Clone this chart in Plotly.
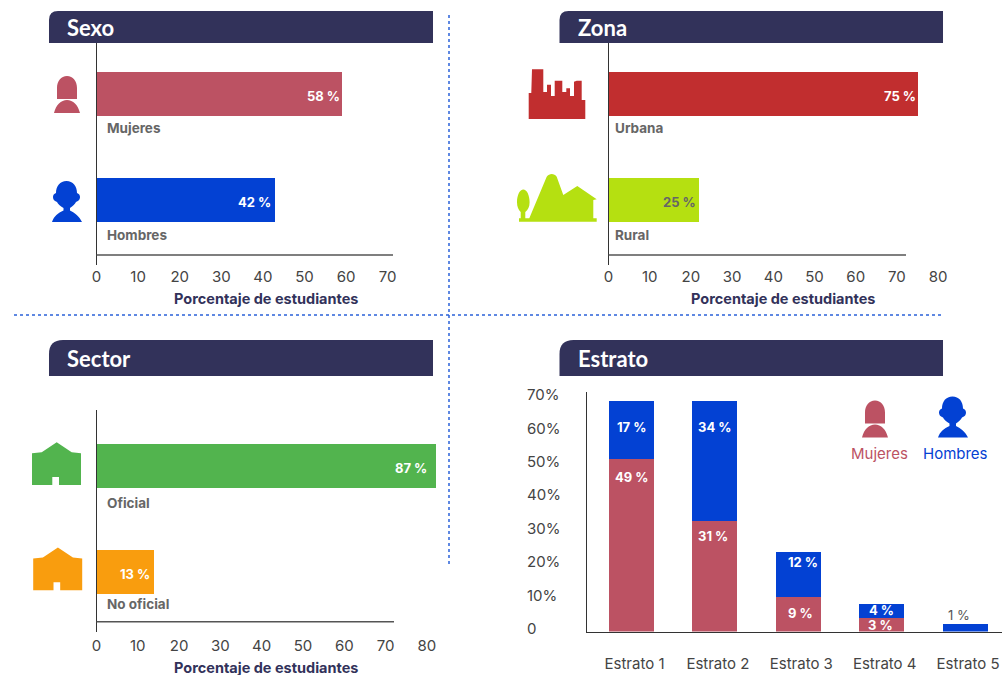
import re
import plotly.graph_objects as go

W, H = 1008, 675
NAVY = "#32325a"; WOMAN = "#bc5263"; MAN = "#0341d3"; RED = "#c12e2f"; LIME = "#b5e011"
GREEN = "#52b44e"; ORANGE = "#f99d0e"; TICK = "#444444"; CAT = "#666666"; DOT = "#2b62d9"
FONT = "Inter"; TITLE_FONT = "Lato"

# ---- data ----
sexo_cats = ["Mujeres", "Hombres"]
sexo_vals = [59, 43]
sexo_text = ["58 %", "42 %"]
zona_cats = ["Urbana", "Rural"]
zona_vals = [75, 22]
zona_text = ["75 %", "25 %"]
sector_cats = ["Oficial", "No oficial"]
sector_vals = [82.2, 13.9]
sector_text = ["87 %", "13 %"]
estrato_cats = ["Estrato 1", "Estrato 2", "Estrato 3", "Estrato 4", "Estrato 5"]
estrato_mujeres = [51.6, 33.1, 10.3, 4.0, 0]
estrato_hombres = [17.4, 35.9, 13.5, 4.2, 2.2]
estrato_mujeres_text = ["49 %", "31 %", "9 %", "3 %", ""]
estrato_hombres_text = ["17 %", "34 %", "12 %", "4 %", "1 %"]
x_ticks_sexo = [0, 10, 20, 30, 40, 50, 60, 70]
x_ticks_zona = [0, 10, 20, 30, 40, 50, 60, 70, 80]
x_ticks_sector = [0, 10, 20, 30, 40, 50, 60, 70, 80]
y_ticks_estrato = [0, 10, 20, 30, 40, 50, 60, 70]

fig = go.Figure()
shapes, annos = [], []


def px(x):
    return x / W


def py(y):
    return 1 - y / H


def dx(a, b):
    return [px(a), px(b)]


def dy(top, bottom):
    return [py(bottom), py(top)]


def text(x, y, s, size=14, color=TICK, bold=False, anchor="center", font=FONT, xref="paper", yref="paper", **kw):
    annos.append(dict(xref=xref, yref=yref,
                      x=px(x) if xref == "paper" else x,
                      y=py(y) if yref == "paper" else y,
                      text=s, showarrow=False, xanchor=anchor, yanchor="middle",
                      font=dict(family=font, size=size, color=color, weight=700 if bold else 400),
                      **kw))


def shift(path, ox=0, oy=0):
    return re.sub(r"(-?[\d.]+),(-?[\d.]+)",
                  lambda m: f"{float(m.group(1)) + ox:.1f},{float(m.group(2)) + oy:.1f}", path)


def to_paper(path):
    return re.sub(r"(-?[\d.]+),(-?[\d.]+)",
                  lambda m: f"{px(float(m.group(1))):.5f},{py(float(m.group(2))):.5f}", path)


def icon(path, color):
    shapes.append(dict(type="path", xref="paper", yref="paper", path=to_paper(path),
                       fillcolor=color, line=dict(width=0), layer="above"))


def seg(x0, y0, x1, y1, color, width=1.5, dash="solid"):
    shapes.append(dict(type="line", xref="paper", yref="paper", x0=px(x0), y0=py(y0), x1=px(x1), y1=py(y1),
                       line=dict(color=color, width=width, dash=dash)))


def hpanel(n, cats, vals, labels, colors, ticks, x0, xend, scale, top, bottom, c0, line_end,
           label_x, cat_off, txt_end, txt_colors, title_x, standoff=1, title_off=33):
    xa, ya = f"x{n}", f"y{n}"
    fig.add_trace(go.Bar(y=cats, x=vals, orientation="h", width=44 / 106,
                         marker=dict(color=colors, line=dict(width=0)),
                         xaxis=xa, yaxis=ya, showlegend=False, hoverinfo="x+y"))
    fig.layout[f"xaxis{n}"] = dict(domain=dx(x0, xend), range=[0, (xend - x0) / scale], anchor=ya,
                                   tickmode="array", tickvals=ticks, showgrid=False, zeroline=False,
                                   showline=False, ticks="", ticklabelstandoff=standoff, automargin=False,
                                   tickfont=dict(family=FONT, size=15, color=TICK))
    fig.layout[f"yaxis{n}"] = dict(domain=dy(top, bottom), anchor=xa, type="category", automargin=False,
                                   range=[(bottom - c0) / 106, -(c0 - top) / 106],
                                   showticklabels=False, ticks="", showgrid=False, zeroline=False,
                                   showline=True, linecolor="#333333", linewidth=1.25, categoryorder="array",
                                   categoryarray=cats)
    seg(x0, bottom - 10, line_end, bottom - 10, "#555555")
    for i, c in enumerate(cats):
        text(label_x, c0 + 106 * i + cat_off[i], c, color=CAT, bold=True, anchor="left", size=13.5)
        text(vals[i], c, labels[i], color=txt_colors[i], bold=True, anchor="right", size=13,
             xref=xa, yref=ya, xshift=txt_end[i], yshift=-2)
    text(title_x, bottom + title_off, "Porcentaje de estudiantes", color=NAVY, bold=True, size=14.5)


def header(x0, x1, y0, y1, r, s):
    p = f"M {x0},{y1} L {x0},{y0 + r} Q {x0},{y0} {x0 + r},{y0} L {x1},{y0} L {x1},{y1} Z"
    shapes.append(dict(type="path", xref="paper", yref="paper", path=to_paper(p),
                       fillcolor=NAVY, line=dict(width=0)))
    text(x0 + 16, (y0 + y1) / 2, s, size=22, color="white", bold=True, anchor="left", font=TITLE_FONT)


hpanel(2, zona_cats, zona_vals, zona_text, [RED, LIME], x_ticks_zona, 608.5, 950, 4.12, 43, 265, 94, 906,
       613, [34, 35], [0, -1], ["white", CAT], 783)
hpanel(3, sector_cats, sector_vals, sector_text, [GREEN, ORANGE], x_ticks_sector, 96.5, 445, 4.13, 410, 631.7, 466,
       394, 105, [37, 32], [-7, -2], ["white", "white"], 266, standoff=3, title_off=36)
hpanel(5, sexo_cats, sexo_vals, sexo_text, [WOMAN, MAN], x_ticks_sexo, 96.5, 400, 4.16, 43, 265, 94, 393,
       105, [34, 35], [0, -2], ["white", "white"], 265.5)

# ---- Estrato ----
E_X0, E_X1, E_TOP, E_BASE = 587, 1002, 392, 631.5
E_SCALE, E_STEP = 3.34, 83.4
fig.add_trace(go.Bar(x=estrato_cats, y=estrato_mujeres, name="Mujeres", marker=dict(color=WOMAN, line=dict(width=0)),
                     width=45 / E_STEP, xaxis="x4", yaxis="y4", showlegend=False))
fig.add_trace(go.Bar(x=estrato_cats, y=estrato_hombres, name="Hombres", marker=dict(color=MAN, line=dict(width=0)),
                     width=45 / E_STEP, xaxis="x4", yaxis="y4", showlegend=False))
fig.layout["xaxis4"] = dict(domain=dx(E_X0, E_X1), anchor="y4", type="category", automargin=False,
                            range=[-(631.5 - E_X0) / E_STEP, (E_X1 - 631.5) / E_STEP],
                            showline=True, linecolor="#333333", linewidth=1.25, ticks="", showgrid=False,
                            ticklabelstandoff=18, ticklabelshift=3,
                            tickfont=dict(family=FONT, size=15, color=TICK))
fig.layout["yaxis4"] = dict(domain=dy(E_TOP, E_BASE), anchor="x4", range=[0, (E_BASE - E_TOP) / E_SCALE],
                            tickmode="array", tickvals=y_ticks_estrato, showticklabels=False, ticks="",
                            automargin=False, showgrid=False, zeroline=False, showline=True,
                            linecolor="#333333", linewidth=1.25)
for t in y_ticks_estrato:
    text(525, t, "0" if t == 0 else f"{t}%", size=15, anchor="left", yref="y4", yshift=3)
m_off = [18, 15, 16, 6.5]
m_dx = [0, -2, 2, -1]
h_off = [26, 26, 10, 6]
h_dx = [0, 0, 5, 0]
for i in range(4):
    text(estrato_cats[i], estrato_mujeres[i], estrato_mujeres_text[i], color="white", bold=True, size=13,
         xref="x4", yref="y4", yshift=-m_off[i], xshift=m_dx[i])
    text(estrato_cats[i], estrato_mujeres[i] + estrato_hombres[i], estrato_hombres_text[i], color="white", bold=True,
         size=13, xref="x4", yref="y4", yshift=-h_off[i], xshift=h_dx[i])
text(estrato_cats[4], estrato_hombres[4], estrato_hombres_text[4], color="#555555", xref="x4", yref="y4",
     yshift=9, xshift=-6, size=13)
text(879.7, 453, "Mujeres", size=15, color=WOMAN)
text(955.5, 453, "Hombres", size=15, color=MAN)

# ---- headers ----
header(49, 433, 11, 43, 9, "Sexo")
header(559.5, 943, 11, 43, 9, "Zona")
header(49, 433, 340, 376, 14, "Sector")
header(559.5, 943, 340, 376, 14, "Estrato")

# ---- dotted separators ----
seg(14, 315, 942, 315, DOT, 1.5, "dot")
seg(449, 15, 449, 567, DOT, 1.5, "dot")

# ---- icons ----
woman = ("M 57,99 L 57,88 C 57,81 61,76 67,76 C 73,76 77,81 77,88 L 77,99 Z "
         "M 54,113 C 56,105 61,100 67,100 C 73,100 78,105 80,113 Z")
man = ("M 52,222 C 54,216 58,213 63.5,210.5 L 63.5,208 C 60,206 58,204 57,202 C 54,201 53,199 53,197 "
       "C 53,195 54,194 56,193 C 56,186 60,181 66.5,181 C 73,181 77,186 77,193 C 79,194 80,195 80,197 "
       "C 80,199 79,201 76,202 C 75,204 73,206 70,208 L 70,210.5 C 75,213 79,216 82,222 Z")
factory = ("M 528.7,119 L 528.7,93 L 531.3,93 L 532,69.3 L 543.3,69.3 L 543.3,92 L 547,92 L 547,84.7 L 551,84.7 "
           "L 551,96 L 554.7,96 L 554.7,80.7 L 562.3,80.7 L 562.3,92 L 566.3,92 L 566.3,88.3 L 570,88.3 L 570,96 "
           "L 574,96 L 574,81.7 L 576.7,80.7 L 581.7,80.7 L 581.7,100 L 585.3,100 L 585.3,119 Z")
rural = ("M 519,221.7 L 519,218.3 L 520.7,218.3 L 520.7,212 C 518.5,210 517,207 517,202.3 C 517,195 520,189.6 523.3,189.6 "
         "C 526.6,189.6 529.6,195 529.6,202.3 C 529.6,207 528,210 525.3,212 L 525.3,218.3 L 529.3,218.3 L 546.7,176.7 "
         "C 548,175 550,174 551.7,174 C 553.5,174 555.7,175 556.7,176.7 L 563.3,195 L 577.3,186 L 596.7,199.3 "
         "L 593.3,200 L 593.3,218.3 L 596.7,218.3 L 596.7,221.7 Z")
house = ("M 32,453.3 L 41.7,452.3 L 56.7,442.3 L 71.7,452.3 L 81,453.3 L 81,485 L 59,485 L 59,477 L 52.3,477 "
         "L 52.3,485 L 32,485 Z")
icon(woman, WOMAN)
icon(man, MAN)
icon(factory, RED)
icon(rural, LIME)
icon(house, GREEN)
icon(shift(house, 1.2, 105.3), ORANGE)
icon(shift(woman, 808, 324.5), WOMAN)
icon(shift(man, 886, 215.5), MAN)

fig.update_layout(width=W, height=H, autosize=False, margin=dict(l=0, r=0, t=0, b=0),
                  paper_bgcolor="white", plot_bgcolor="rgba(0,0,0,0)", barmode="stack",
                  shapes=shapes, annotations=annos, font=dict(family=FONT))
fig.write_html("out.html", post_script="document.body.style.margin='0';", config=dict(displayModeBar=False))
